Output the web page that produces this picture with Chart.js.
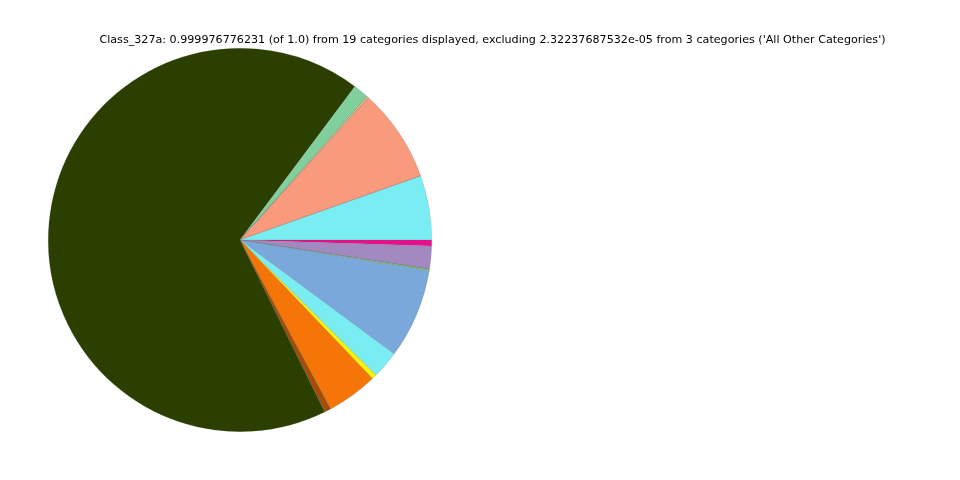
<!DOCTYPE html>
<html>
<head>
<meta charset="utf-8">
<script src="https://cdn.jsdelivr.net/npm/chart.js@4"></script>
<style>
  html, body { margin: 0; padding: 0; background: #fff; }
  #wrap { position: relative; width: 960px; height: 480px; }
  #title {
    position: absolute; top: 33px; left: 0; width: 985px; text-align: center;
    font-family: "DejaVu Sans", sans-serif; font-size: 11.14px; color: #000;
    white-space: nowrap;
  }
</style>
</head>
<body>
<div id="wrap">
  <canvas id="pie" width="960" height="480"></canvas>
  <div id="title">Class_327a: 0.999976776231 (of 1.0) from 19 categories displayed, excluding 2.32237687532e-05 from 3 categories ('All Other Categories')</div>
</div>
<script>
// slices listed clockwise starting from 3 o'clock
const categories = [
  "Cat_01", "Cat_02", "Cat_03", "Cat_04", "Cat_05", "Cat_06", "Cat_07",
  "Cat_08", "Cat_09", "Cat_10", "Cat_11", "Cat_12", "Cat_13", "Cat_14",
  "Cat_15", "Cat_16", "Cat_17", "Cat_18", "Cat_19"
];
const shares = [
  0.0050, 0.0194, 0.0001, 0.0014, 0.0756, 0.0231, 0.0042, 0.0001, 0.0428,
  0.0055, 0.0001, 0.6756, 0.0131, 0.0001, 0.0014, 0.0001, 0.0789, 0.0001, 0.0542
];
const colors = [
  "#ec0d8c", "#a289c0", "#3f6f8f", "#6fc77a", "#7aa8da", "#7aedf2", "#fbf200", "#c0c0c0", "#f57606",
  "#a34d06", "#606060", "#2a3f00", "#82cf9e", "#b05050", "#f5c080", "#5070a0", "#f99a7c", "#909000", "#7aedf2"
];

new Chart(document.getElementById("pie"), {
  type: "pie",
  data: {
    labels: categories,
    datasets: [{
      data: shares,
      backgroundColor: colors,
      borderColor: "rgba(90,90,90,0.35)",
      borderWidth: 0.5
    }]
  },
  options: {
    responsive: false,
    animation: false,
    rotation: 90,
    layout: { padding: { left: 48, right: 528, top: 48, bottom: 48 } },
    plugins: {
      legend: { display: false },
      tooltip: { enabled: false }
    }
  }
});
</script>
</body>
</html>
